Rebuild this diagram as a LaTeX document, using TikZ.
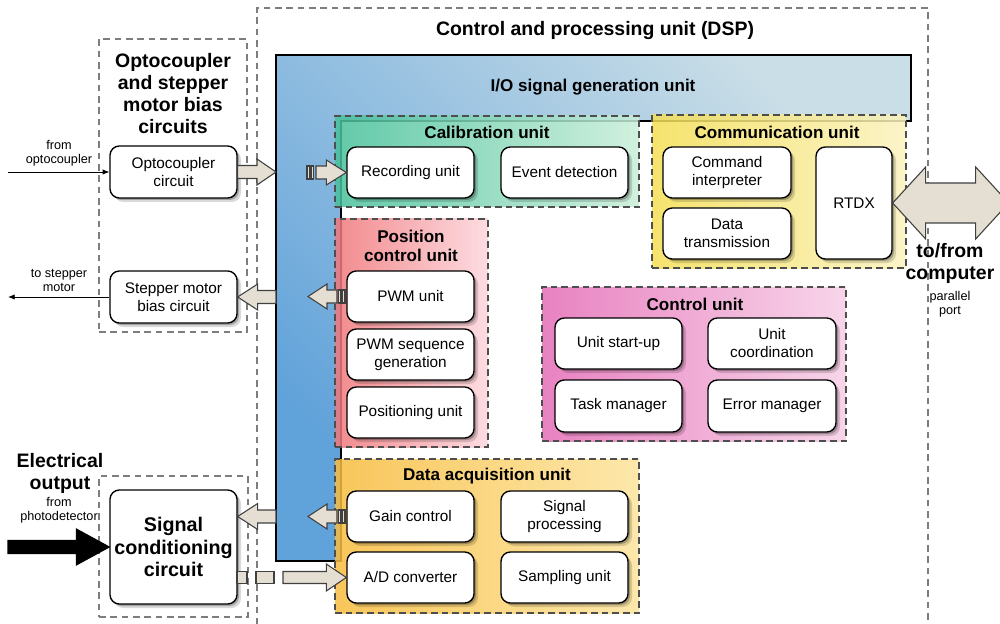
\documentclass[tikz,border=0pt]{standalone}
\usepackage{fontspec}
\setmainfont{Liberation Sans}
\usetikzlibrary{calc,shadows,arrows.meta}
\definecolor{blueD}{RGB}{96,162,218}
\definecolor{blueL}{RGB}{202,222,231}
\definecolor{calL}{RGB}{70,192,154}
\definecolor{calR}{RGB}{200,238,216}
\definecolor{comL}{RGB}{244,222,84}
\definecolor{comR}{RGB}{250,242,190}
\definecolor{posL}{RGB}{240,118,122}
\definecolor{posR}{RGB}{252,214,220}
\definecolor{ctlL}{RGB}{228,108,182}
\definecolor{ctlR}{RGB}{246,206,229}
\definecolor{daqL}{RGB}{247,188,62}
\definecolor{daqR}{RGB}{252,228,156}
\definecolor{beige}{RGB}{229,223,211}
\definecolor{pborder}{RGB}{78,78,78}
\definecolor{oborder}{RGB}{125,125,125}
\tikzset{
  outerbox/.style={draw=oborder, line width=0.8pt, dash pattern=on 5pt off 3.5pt, inner sep=0pt},
  panel/.style={draw=pborder, line width=1.3pt, dash pattern=on 5pt off 3pt, inner sep=0pt, fill opacity=.85},
  box/.style={draw=black, line width=1pt, fill=white, rounded corners=7pt, align=center, inner sep=1pt,
    font=\fontsize{11.5}{13.5}\selectfont,
    drop shadow={shadow xshift=1.5pt, shadow yshift=-1.5pt, opacity=.25, fill=black},
    drop shadow={shadow xshift=3pt, shadow yshift=-3pt, opacity=.15, fill=black}},
  ptitle/.style={font=\bfseries\fontsize{12.8}{14.3}\selectfont, align=center, inner sep=0pt},
  bigtitle/.style={font=\bfseries\fontsize{14.6}{16.5}\selectfont, align=center, inner sep=0pt},
  small/.style={font=\fontsize{9.5}{10.5}\selectfont, align=center, inner sep=0pt},
  bar/.style={draw=black!75, line width=0.8pt, fill=beige},
  thinarr/.style={-{Latex[length=5pt,width=4pt]}, line width=0.6pt}
}
\newcommand\place[7]{\node[#1, minimum width={(#5-#3)*0.75pt}, minimum height={(#6-#4)*0.75pt}] (#2) at ({(#3+#5)/2},{(#4+#6)/2}) {#7};}
\newcommand\barrow[6][]{%
  \draw[bar,#1] let \p1=(#2), \p2=(#3), \n1={ifthenelse(\x1>\x2,1,-1)} in
  (\x1,{\y2+#4*0.75pt}) -- ({\x2+\n1*#6*0.75pt},{\y2+#4*0.75pt}) -- ({\x2+\n1*#6*0.75pt},{\y2+#5*0.75pt})
  -- (\x2,\y2) -- ({\x2+\n1*#6*0.75pt},{\y2-#5*0.75pt}) -- ({\x2+\n1*#6*0.75pt},{\y2-#4*0.75pt})
  -- (\x1,{\y2-#4*0.75pt}) -- cycle;}
\newcommand\stripes[2]{%
  \draw[bar] (#1,#2-6.5) rectangle (#1+2.5,#2+6.5);
  \draw[bar] (#1+4,#2-6.5) rectangle (#1+6.5,#2+6.5);}
\begin{document}
\begin{tikzpicture}[x=0.75pt,y=-0.75pt]
\useasboundingbox (0,0) rectangle (1000,624);
\clip (0,0) rectangle (1000,624);

% outer dashed groups
\place{outerbox}{dsp}{257}{8}{928}{640}{}
\place{outerbox}{optgrp}{99}{39}{247}{332}{}
\place{outerbox}{scgrp}{99}{476}{248}{617}{}

% titles
\node[bigtitle] (dsptitle) at (595,31) {Control and processing unit (DSP)};
\node[bigtitle] (opttitle) at (173,93.5) {Optocoupler\\and stepper\\motor bias\\circuits};

% I/O signal generation unit (L-shape)
\shade[draw=black, line width=1.3pt, left color=blueD, right color=blueL, shading angle=135]
  (276,55) -- (911,55) -- (911,121) -- (341,121) -- (341,561) -- (276,561) -- cycle;
\node[font=\bfseries\fontsize{12.8}{15}\selectfont, inner sep=0pt] (iotitle) at (593,87) {I/O signal generation unit};

% panels
\place{panel, left color=calL, right color=calR}{cal}{335}{116}{639}{207}{}
\place{panel, left color=comL, right color=comR}{com}{652}{115}{906}{268}{}
\place{panel, left color=posL, right color=posR}{pos}{335}{219}{488}{447}{}
\place{panel, left color=ctlL, right color=ctlR}{ctl}{542}{287}{846}{441}{}
\place{panel, left color=daqL, right color=daqR}{daq}{335}{459}{639}{613}{}

\node[ptitle] (calt) at (487,132) {Calibration unit};
\node[ptitle] (comt) at (777,132) {Communication unit};
\node[ptitle] (post) at (411,245.5) {Position\\control unit};
\node[ptitle] (ctlt) at (695,304) {Control unit};
\node[ptitle] (daqt) at (487,476) {Data acquisition unit};

% boxes
\place{box}{opto}{110}{146}{237}{198}{Optocoupler\\circuit}
\place{box}{step}{110}{271}{237}{323}{Stepper motor\\bias circuit}
\place{box, font=\bfseries\fontsize{14.8}{16.9}\selectfont}{sc}{110}{490}{237}{604}{Signal\\conditioning\\circuit}

\place{box}{rec}{347}{147}{474}{198}{Recording unit}
\place{box}{evt}{501}{147}{628}{198}{Event detection}
\place{box}{cmd}{663}{147}{791}{198}{Command\\interpreter}
\place{box}{dtx}{663}{208}{791}{259}{Data\\transmission}
\place{box}{rtdx}{816}{147}{892}{259}{RTDX}
\place{box}{pwm}{347}{271}{474}{322}{PWM unit}
\place{box}{pwmseq}{347}{329}{474}{380}{PWM sequence\\generation}
\place{box}{posu}{347}{387}{474}{438}{Positioning unit}
\place{box}{start}{555}{318}{682}{369}{Unit start-up}
\place{box}{coord}{708}{318}{836}{369}{Unit\\coordination}
\place{box}{task}{555}{380}{682}{432}{Task manager}
\place{box}{err}{708}{380}{836}{432}{Error manager}
\place{box}{gain}{347}{491}{474}{542}{Gain control}
\place{box}{sig}{501}{491}{628}{542}{Signal\\processing}
\place{box}{adc}{347}{552}{474}{603}{A/D converter}
\place{box}{samp}{501}{552}{628}{603}{Sampling unit}

% block arrows
\coordinate (b1) at (276,172);
\barrow{opto.east}{b1}{6.5}{13}{19}
\coordinate (a2t) at (316,172.5);
\barrow{a2t}{rec.west}{6.5}{12.5}{20}
\stripes{307}{172.5}
\coordinate (b3) at (276,297);
\barrow{b3}{step.east}{6.5}{13}{20}
\coordinate (a4t) at (337,296.5);
\coordinate (a4h) at (308,296.5);
\barrow{a4t}{a4h}{6.5}{12.5}{19}
\stripes{338.5}{296.5}
\coordinate (a5t) at (337,516.5);
\coordinate (a5h) at (308,516.5);
\barrow{a5t}{a5h}{6.5}{12.5}{19}
\stripes{338.5}{516.5}
\coordinate (b6) at (276,516.5);
\barrow{b6}{sc.east |- b6}{6.5}{13}{20}
% dashed block arrow to A/D converter
\draw[bar] (237,571.5) rectangle (247,583.5);
\draw[bar] (256,571.5) rectangle (274,583.5);
\coordinate (a7t) at (283,577.5);
\barrow{a7t}{adc.west}{6}{13.5}{20}
% double arrow RTDX <-> computer
\draw[bar] (rtdx.east) -- ++(33,-36) -- ++(0,16) -- ++(50,0) -- ++(0,-16) -- ++(33,36)
  -- ++(-33,36) -- ++(0,-16) -- ++(-50,0) -- ++(0,16) -- cycle;
% big black arrow
\coordinate (ein) at (8,547);
\barrow[fill=black, draw=black]{ein}{sc.west}{6.5}{18}{33}

% thin arrows
\coordinate (fromopt) at (8,172);
\draw[thinarr] (fromopt) -- (opto.west);
\coordinate (tostep) at (8,297);
\draw[thinarr] (step.west) -- (tostep);

% labels
\node[small] (l1) at (59,153) {from\\optocoupler};
\node[small] (l2) at (59,280) {to stepper\\motor};
\node[bigtitle, font=\bfseries\fontsize{14.6}{16.5}\selectfont] (l3) at (60,473) {Electrical\\output};
\node[small] (l4) at (59,510) {from\\photodetector};
\node[bigtitle] (l5) at (950,263.5) {to/from\\computer};
\node[small] (l6) at (950,304.5) {parallel\\port};
\end{tikzpicture}
\end{document}
